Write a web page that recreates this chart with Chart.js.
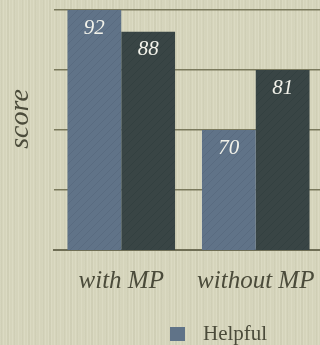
<!DOCTYPE html>
<html>
<head>
<meta charset="utf-8">
<script src="https://cdn.jsdelivr.net/npm/chart.js@4"></script>
<style>
  html, body { margin:0; padding:0; width:320px; height:345px; overflow:hidden; }
  body {
    background-color:#d5d4bb;
    background-image:
      repeating-linear-gradient(90deg, rgba(255,255,240,0.14) 0px, rgba(255,255,240,0.14) 1px, rgba(0,0,0,0) 1px, rgba(0,0,0,0) 3px),
      repeating-linear-gradient(90deg, rgba(120,120,90,0.06) 0px, rgba(120,120,90,0.06) 2px, rgba(0,0,0,0) 2px, rgba(0,0,0,0) 7px);
  }
  #wrap { position:relative; width:340px; height:345px; }
</style>
</head>
<body>
<div id="wrap"><canvas id="c"></canvas></div>
<script>
const categories = ["with MP", "without MP"];
const helpful = [92, 70];
const other = [88, 81];
const seriesLabels = ["Helpful", "Not helpful"];
const yTicks = [48, 59, 70, 81, 92];
const yTitle = "score";

function makePattern(base, stripe) {
  const p = document.createElement('canvas');
  p.width = 8; p.height = 8;
  const g = p.getContext('2d');
  g.fillStyle = base; g.fillRect(0, 0, 8, 8);
  g.strokeStyle = stripe; g.lineWidth = 1;
  g.beginPath();
  g.moveTo(0, 8); g.lineTo(8, 0);
  g.moveTo(-4, 4); g.lineTo(4, -4);
  g.moveTo(4, 12); g.lineTo(12, 4);
  g.stroke();
  return document.getElementById('c').getContext('2d').createPattern(p, 'repeat');
}
const blueFill = makePattern('#607388', 'rgba(82,100,120,0.5)');
const darkFill = makePattern('#394545', 'rgba(48,60,60,0.55)');

const valueLabels = {
  id: 'valueLabels',
  afterDatasetsDraw(chart) {
    const ctx = chart.ctx;
    ctx.save();
    ctx.font = 'italic 21px "Liberation Serif", serif';
    ctx.fillStyle = '#f2f2ea';
    ctx.textAlign = 'center';
    ctx.textBaseline = 'middle';
    chart.data.datasets.forEach((ds, i) => {
      chart.getDatasetMeta(i).data.forEach((bar, j) => {
        ctx.fillText(String(ds.data[j]), bar.x, bar.y + 18);
      });
    });
    ctx.restore();
  }
};

const extras = {
  id: 'extras',
  afterDraw(chart) {
    const ctx = chart.ctx;
    const ds = chart.data.datasets[0];
    ctx.save();
    // legend
    ctx.fillStyle = '#607388';
    ctx.fillRect(170, 327, 15, 14);
    ctx.font = '21px "Liberation Serif", serif';
    ctx.fillStyle = '#4b4b3a';
    ctx.textAlign = 'left';
    ctx.textBaseline = 'alphabetic';
    ctx.fillText(ds.label, 203, 340);
    // y axis title
    ctx.translate(21, 119);
    ctx.rotate(-Math.PI / 2);
    ctx.font = 'italic 28px "Liberation Serif", serif';
    ctx.textAlign = 'center';
    ctx.textBaseline = 'middle';
    ctx.fillText(yTitle, 0, 0);
    ctx.restore();
  }
};

new Chart(document.getElementById('c'), {
  type: 'bar',
  data: {
    labels: categories,
    datasets: [
      { label: seriesLabels[0], data: helpful, backgroundColor: blueFill, borderWidth: 0 },
      { label: seriesLabels[1], data: other, backgroundColor: darkFill, borderWidth: 0 }
    ]
  },
  options: {
    responsive: true,
    maintainAspectRatio: false,
    animation: false,
    devicePixelRatio: 1,
    layout: { padding: { top: 10, left: 54, right: 17, bottom: 33 } },
    datasets: { bar: { categoryPercentage: 0.8, barPercentage: 1.0 } },
    plugins: { legend: { display: false }, tooltip: { enabled: false } },
    scales: {
      x: {
        grid: { display: false, drawTicks: false },
        border: { display: true, color: '#6f6e55', width: 2 },
        ticks: {
          padding: 16,
          color: '#4b4b3a',
          font: { family: '"Liberation Serif", serif', style: 'italic', size: 25 }
        }
      },
      y: {
        min: yTicks[0],
        max: yTicks[yTicks.length - 1],
        afterBuildTicks(axis) { axis.ticks = yTicks.map(v => ({ value: v })); },
        grid: { color: '#7a795c', lineWidth: 1.5, drawTicks: false },
        border: { display: false },
        ticks: { display: false }
      }
    }
  },
  plugins: [valueLabels, extras]
});
</script>
</body>
</html>
